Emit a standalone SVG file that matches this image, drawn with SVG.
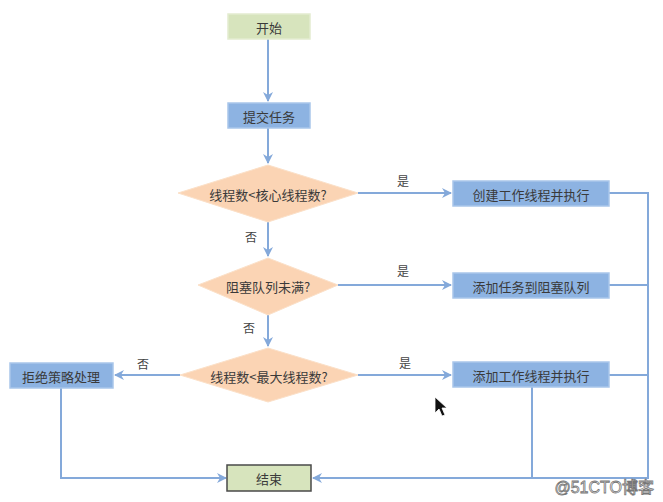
<svg xmlns="http://www.w3.org/2000/svg" width="663" height="502" viewBox="0 0 663 502">
<defs>
<style>
.t{font-family:"Noto Sans CJK SC","Liberation Sans",sans-serif;font-size:13px;fill:#3a3a3a;text-anchor:middle;dominant-baseline:central}
.lbl{font-family:"Noto Sans CJK SC","Liberation Sans",sans-serif;font-size:12px;fill:#444;text-anchor:middle;dominant-baseline:central}
.blue{fill:#8db3e2;stroke:#a9c6ea;stroke-width:1.5}
.green{fill:#d7e4bd;stroke:#e3ecd0;stroke-width:1.5}
.dia{fill:#fbd4b4;stroke:#fbe0c8;stroke-width:1}
.c{fill:none;stroke:#84a9da;stroke-width:2}
</style>
<marker id="ah" viewBox="0 0 10 10" refX="9" refY="5" markerWidth="5" markerHeight="5" orient="auto" markerUnits="strokeWidth">
<path d="M0,0 L10,5 L0,10 L3,5 z" fill="#84a9da"/>
</marker>
</defs>
<rect width="663" height="502" fill="#ffffff"/>
<g id="connectors">
<line class="c" x1="268" y1="39" x2="268" y2="101" marker-end="url(#ah)"/>
<line class="c" x1="268" y1="128" x2="268" y2="163" marker-end="url(#ah)"/>
<line class="c" x1="268" y1="222" x2="268" y2="256" marker-end="url(#ah)"/>
<line class="c" x1="268" y1="315" x2="268" y2="346" marker-end="url(#ah)"/>
<line class="c" x1="358" y1="193" x2="451" y2="193" marker-end="url(#ah)"/>
<line class="c" x1="338" y1="285" x2="451" y2="285" marker-end="url(#ah)"/>
<line class="c" x1="358" y1="375" x2="451" y2="375" marker-end="url(#ah)"/>
<line class="c" x1="180" y1="375" x2="115" y2="375" marker-end="url(#ah)"/>
<polyline class="c" points="61,388 61,478 226,478" marker-end="url(#ah)"/>
<polyline class="c" points="609,193 648,193 648,478 313,478" marker-end="url(#ah)"/>
<line class="c" x1="609" y1="285" x2="648" y2="285"/>
<line class="c" x1="609" y1="375" x2="648" y2="375"/>
<line class="c" x1="532" y1="387" x2="532" y2="478"/>
<text class="lbl" x="403" y="180">是</text>
<text class="lbl" x="403" y="270">是</text>
<text class="lbl" x="405" y="362">是</text>
<text class="lbl" x="251" y="236">否</text>
<text class="lbl" x="249" y="327">否</text>
<text class="lbl" x="143" y="363">否</text>
</g>
<g id="start"><rect class="green" x="228" y="14" width="82" height="25"/><text class="t" x="269" y="27">开始</text></g>
<g id="submit"><rect class="blue" x="228" y="103" width="82" height="25"/><text class="t" x="269" y="116">提交任务</text></g>
<g id="d1"><polygon class="dia" points="268,165 358,193 268,222 178,193"/><text class="t" x="268" y="194">线程数&lt;核心线程数?</text></g>
<g id="d2"><polygon class="dia" points="268,258 338,285 268,315 198,285"/><text class="t" x="268" y="286">阻塞队列未满?</text></g>
<g id="d3"><polygon class="dia" points="268,348 358,375 268,402 180,375"/><text class="t" x="269" y="376">线程数&lt;最大线程数?</text></g>
<g id="create"><rect class="blue" x="453" y="181" width="156" height="25"/><text class="t" x="531" y="194">创建工作线程并执行</text></g>
<g id="queue"><rect class="blue" x="453" y="273" width="156" height="25"/><text class="t" x="531" y="286">添加任务到阻塞队列</text></g>
<g id="addworker"><rect class="blue" x="453" y="362" width="156" height="25"/><text class="t" x="531" y="375">添加工作线程并执行</text></g>
<g id="reject"><rect class="blue" x="10" y="363" width="103" height="25"/><text class="t" x="61" y="376">拒绝策略处理</text></g>
<g id="end"><rect x="227" y="465" width="84" height="26" fill="#d7e4bd" stroke="#4a4a4a" stroke-width="1.5"/><text class="t" x="269" y="478">结束</text></g>
<polygon points="435,397 435,413 439,409 442,416 445,415 442,408 447,408" fill="#111" stroke="#fff" stroke-width="0.8"/>
<text x="654" y="487" font-family="'Liberation Sans','Noto Sans CJK SC',sans-serif" font-size="16" fill="#fff" stroke="#777" stroke-width="0.8" text-anchor="end" dominant-baseline="central">@51CTO博客</text>
</svg>
